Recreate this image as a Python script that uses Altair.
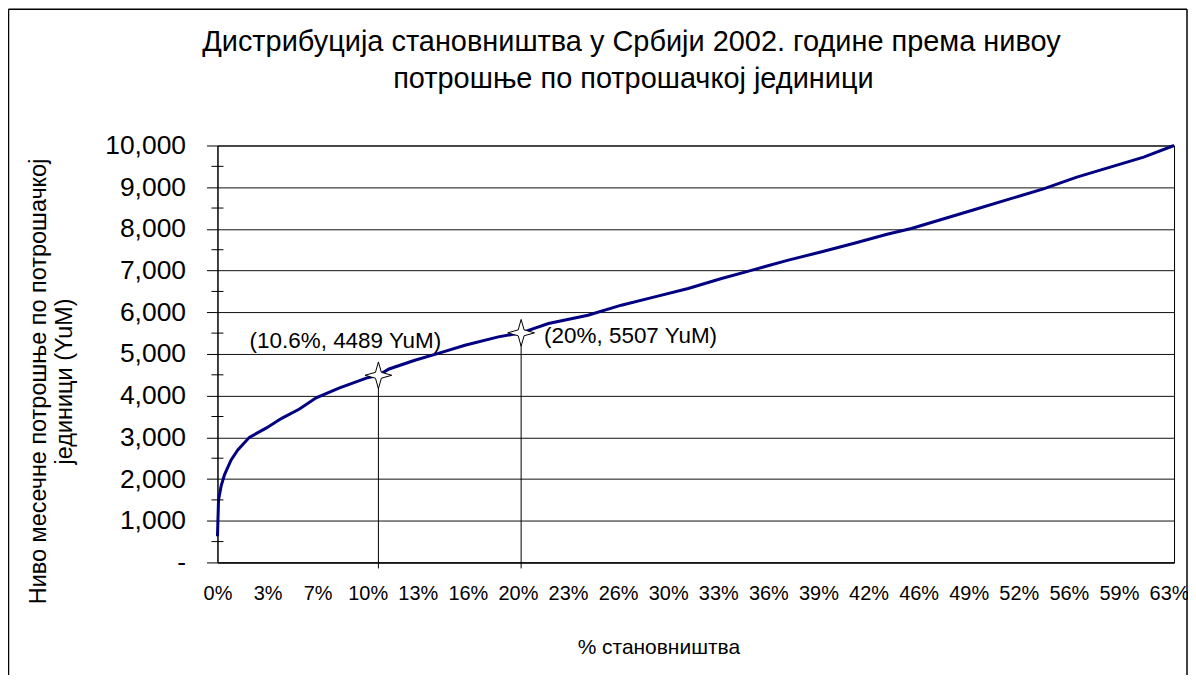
import json
import altair as alt
import pandas as pd

# ---- data ----
pct = [0, 0.07, 0.24, 0.46, 0.9, 1.34, 2.1, 3.2, 4.2, 5.4, 6.5, 8.0, 9.8, 10.6,
       11.3, 13.0, 14.6, 16.3, 18.5, 20.0, 21.8, 24.4, 26.6, 28.8, 31.0, 33.2,
       35.4, 37.6, 39.8, 42.0, 44.1, 45.7, 47.9, 50.1, 52.2, 54.4, 56.6, 58.8,
       61.0, 63.0]
consumption = [630, 1500, 1830, 2100, 2460, 2700, 3000, 3220, 3450, 3680, 3950,
               4180, 4420, 4489, 4640, 4850, 5020, 5210, 5410, 5507, 5730, 5930,
               6170, 6370, 6570, 6810, 7030, 7250, 7450, 7660, 7870, 8010, 8250,
               8490, 8720, 8960, 9240, 9480, 9720, 10000]

marker_pct = [10.6, 20.0]
marker_value = [4489, 5507]
marker_labels = ["(10.6%, 4489 YuM)", "(20%, 5507 YuM)"]

x_tick_labels = ["0%", "3%", "7%", "10%", "13%", "16%", "20%", "23%", "26%", "30%",
                 "33%", "36%", "39%", "42%", "46%", "49%", "52%", "56%", "59%", "63%"]
x_last_label_pos = 62.67   # where the "63%" category label sits on the axis
y_tick_values = [0, 1000, 2000, 3000, 4000, 5000, 6000, 7000, 8000, 9000, 10000]
y_tick_labels = ["-", "1,000", "2,000", "3,000", "4,000", "5,000", "6,000",
                 "7,000", "8,000", "9,000", "10,000"]
y_minor_ticks = [500, 1500, 2500, 3500, 4500, 5500, 6500, 7500, 8500, 9500]

title_lines = ["Дистрибуција становништва у Србији 2002. године према нивоу",
               "потрошње по потрошачкој јединици"]
y_title = ["Ниво месечне потрошње по потрошачкој", "јединици (YuM)"]
x_title = "% становништва"

FONT = "Liberation Sans"
W, H = 959, 418
X_MAX = 63

line_df = pd.DataFrame({"pct": pct, "value": consumption})
mark_df = pd.DataFrame({"pct": marker_pct, "value": marker_value, "label": marker_labels})
minor_df = pd.DataFrame({"value": y_minor_ticks})
one_df = pd.DataFrame({"a": [0]})

x_scale = alt.Scale(domain=[0, X_MAX], nice=False, zero=False)
y_scale = alt.Scale(domain=[0, 10000], nice=False)

n = len(x_tick_labels) - 1
x_positions = [i * x_last_label_pos / n for i in range(n + 1)]
x_label_expr = (f"{json.dumps(x_tick_labels, ensure_ascii=False)}"
                f"[round(datum.value * {n} / {x_last_label_pos})]")
y_label_expr = f"{json.dumps(y_tick_labels)}[round(datum.value / 1000)]"

x_axis = alt.Axis(values=x_positions, labelExpr=x_label_expr, ticks=False, grid=False,
                  domainColor="black", labelFont=FONT, labelFontSize=20, labelColor="black",
                  labelPadding=21, labelFlush=False, labelBound=False, labelOverlap=False,
                  title=x_title, titleFont=FONT, titleFontSize=21, titleFontWeight="normal",
                  titleColor="black", titleX=442, titleY=85, titleBaseline="middle",
                  titleAlign="center")
y_axis = alt.Axis(values=y_tick_values, labelExpr=y_label_expr, tickSize=11, tickColor="black",
                  grid=True, gridColor="#111111", gridWidth=1, domainColor="black",
                  labelFont=FONT, labelFontSize=26.5, labelColor="black", labelPadding=21,
                  labelOverlap=False, labelBound=False,
                  title=y_title, titleFont=FONT, titleFontSize=23.5, titleFontWeight="normal",
                  titleColor="black", titleX=-179, titleY=236, titleBaseline="middle",
                  titleAlign="center", titleAngle=270)

X = alt.X("pct:Q", scale=x_scale, axis=x_axis)
Y = alt.Y("value:Q", scale=y_scale, axis=y_axis)

line = alt.Chart(line_df).mark_line(color="#000080", strokeWidth=3).encode(x=X, y=Y)

drops = alt.Chart(mark_df).mark_rule(color="black", strokeWidth=1).encode(
    x=X, y=Y, y2=alt.value(H + 6))

star = "M0,-1 L0.22,-0.22 L1,0 L0.22,0.22 L0,1 L-0.22,0.22 L-1,0 L-0.22,-0.22 Z"
stars = alt.Chart(mark_df).mark_point(shape=star, filled=True, fill="white", stroke="black",
                                      strokeWidth=1, size=720, opacity=1).encode(x=X, y=Y)

lab1 = alt.Chart(mark_df).transform_filter(alt.datum.pct == marker_pct[0]).mark_text(
    font=FONT, fontSize=22.5, align="right", baseline="middle", dx=63, dy=-34, color="black"
).encode(x=X, y=Y, text="label:N")
lab2 = alt.Chart(mark_df).transform_filter(alt.datum.pct == marker_pct[1]).mark_text(
    font=FONT, fontSize=22.5, align="left", baseline="middle", dx=23, dy=3, color="black"
).encode(x=X, y=Y, text="label:N")

minor = alt.Chart(minor_df).mark_rule(color="black", strokeWidth=1).encode(
    y=Y, x=alt.value(-6), x2=alt.value(6))

# chart title as text marks (two lines)
t1 = alt.Chart(one_df).mark_text(font=FONT, fontSize=29, align="center", baseline="middle",
                                 color="black", text=title_lines[0]).encode(
    x=alt.value(415), y=alt.value(-104))
t2 = alt.Chart(one_df).mark_text(font=FONT, fontSize=29, align="center", baseline="middle",
                                 color="black", text=title_lines[1]).encode(
    x=alt.value(417), y=alt.value(-67))

# outer chart-area frame (left, top, right edges)
b_left, b_top, b_right, b_bottom = -209.5, -136.5, 972, 560
frame_l = alt.Chart(one_df).mark_rule(color="black", strokeWidth=1.5).encode(
    x=alt.value(b_left), y=alt.value(b_top), y2=alt.value(b_bottom))
frame_t = alt.Chart(one_df).mark_rule(color="black", strokeWidth=1.5).encode(
    x=alt.value(b_left), x2=alt.value(b_right), y=alt.value(b_top))
frame_r = alt.Chart(one_df).mark_rule(color="black", strokeWidth=1.5).encode(
    x=alt.value(b_right), y=alt.value(b_top), y2=alt.value(b_bottom))

chart = alt.layer(line, drops, stars, lab1, lab2, minor, t1, t2,
                  frame_l, frame_t, frame_r).properties(
    width=W, height=H,
    padding={"left": 210, "top": 137, "right": 14, "bottom": 112},
    autosize=alt.AutoSizeParams(type="none"),
).configure(background="white").configure_view(stroke="black", strokeWidth=1)

chart.save("out.html", embed_options={"renderer": "svg", "actions": False})
